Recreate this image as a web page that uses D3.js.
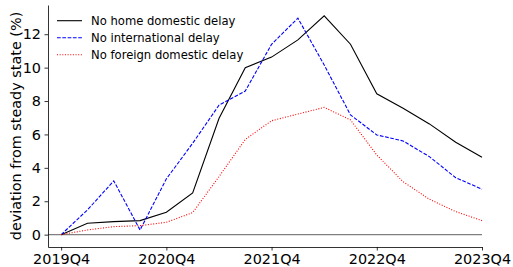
<!DOCTYPE html>
<html><head><meta charset="utf-8">
<script src="https://cdn.jsdelivr.net/npm/d3@7"></script>
<style>body{margin:0;background:#fff}svg{display:block}text{font-family:"DejaVu Sans",sans-serif}</style>
</head><body>
<svg id="c" width="513" height="267"></svg>
<script>
const quarters = ["2019Q4","2020Q1","2020Q2","2020Q3","2020Q4","2021Q1","2021Q2","2021Q3","2021Q4","2022Q1","2022Q2","2022Q3","2022Q4","2023Q1","2023Q2","2023Q3","2023Q4"];
const tickLabels = ["2019Q4","2020Q4","2021Q4","2022Q4","2023Q4"];
const yTicks = [0,2,4,6,8,10,12];
const noHome = [0,0.68,0.78,0.84,1.34,2.5,6.95,10.0,10.63,11.66,13.1,11.4,8.43,7.57,6.63,5.53,4.63];
const noIntl = [0,1.48,3.22,0.28,3.34,5.47,7.75,8.6,11.4,12.96,10.16,7.17,5.97,5.61,4.67,3.41,2.72];
const noForeign = [0,0.28,0.48,0.54,0.74,1.32,3.47,5.7,6.82,7.22,7.62,6.87,4.77,3.17,2.12,1.38,0.84];
const seriesNames = ["No home domestic delay","No international delay","No foreign domestic delay"];

const svg = d3.select("#c");
const L = 48, R = 482, T = 5, B = 247;
const x = d3.scaleLinear().domain([-0.5, 16]).range([L, R]);
const y = d3.scaleLinear().domain([-0.74, 13.75]).range([B, T]);

// zero line
svg.append("line").attr("x1", L).attr("x2", R).attr("y1", y(0)).attr("y2", y(0))
  .attr("stroke", "#808080").attr("stroke-width", 1.3);

const xa = svg.append("g").attr("transform", `translate(0,${B})`)
  .call(d3.axisBottom(x).tickValues(tickLabels.map(t => quarters.indexOf(t)))
    .tickFormat(i => quarters[i]).tickSizeInner(3.5).tickSizeOuter(0).tickPadding(3.5));
const ya = svg.append("g").attr("transform", `translate(${L},0)`)
  .call(d3.axisLeft(y).tickValues(yTicks).tickSizeInner(3.5).tickSizeOuter(0).tickPadding(3.5));
[xa, ya].forEach(g => {
  g.selectAll("text").attr("font-size", 14.4).attr("fill", "#000").attr("font-family", "DejaVu Sans");
  g.selectAll("line").attr("stroke", "#000").attr("stroke-width", 0.8);
  g.select(".domain").attr("stroke", "#000").attr("stroke-width", 0.8);
});

svg.append("text").attr("transform", `translate(20.5,${(T + B) / 2}) rotate(-90)`)
  .attr("text-anchor", "middle").attr("font-size", 14.4).text("deviation from steady state (%)");

const styles = [
  {data: noHome, color: "#000000", dash: null},
  {data: noIntl, color: "#0000ff", dash: "3.7,1.6"},
  {data: noForeign, color: "#ff0000", dash: "1,1.65"}
];
const line = d3.line().x((d, i) => x(i)).y(d => y(d));
styles.forEach(s => {
  svg.append("path").datum(s.data).attr("d", line).attr("fill", "none")
    .attr("stroke", s.color).attr("stroke-width", 1.1)
    .attr("stroke-dasharray", s.dash);
});

// legend
const lg = svg.append("g");
styles.forEach((s, k) => {
  const yy = 20.7 + k * 17;
  lg.append("line").attr("x1", 57).attr("x2", 82).attr("y1", yy).attr("y2", yy)
    .attr("stroke", s.color).attr("stroke-width", 1.1).attr("stroke-dasharray", s.dash);
  lg.append("text").attr("x", 91).attr("y", yy).attr("dy", "0.35em")
    .attr("font-size", 11.6).text(seriesNames[k]);
});
</script>
</body></html>
